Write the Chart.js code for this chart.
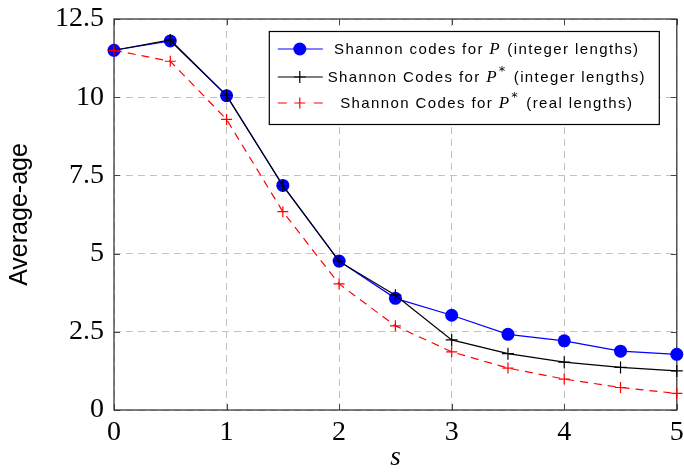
<!DOCTYPE html>
<html><head><meta charset="utf-8">
<script src="https://cdn.jsdelivr.net/npm/chart.js@4/dist/chart.umd.min.js"></script>
<style>html,body{margin:0;padding:0;background:#fff}#wrap{width:684px;height:474px}</style>
</head><body><div id="wrap"><canvas id="c" width="684" height="474"></canvas></div>
<script>
// ---- data ----
const sValues = [0, 0.5, 1, 1.5, 2, 2.5, 3, 3.5, 4, 4.5, 5];
const shannonP = [11.5, 11.8, 10.05, 7.18, 4.76, 3.57, 3.03, 2.42, 2.21, 1.88, 1.78];
const shannonPStarInt = [11.5, 11.83, 10.06, 7.17, 4.75, 3.67, 2.24, 1.80, 1.53, 1.36, 1.25];
const shannonPStarReal = [11.5, 11.15, 9.29, 6.34, 4.03, 2.69, 1.86, 1.34, 0.99, 0.72, 0.53];
const xTicks = [0, 1, 2, 3, 4, 5];
const yTicks = [0, 2.5, 5, 7.5, 10, 12.5];
const legendParts = [
  [{t: 'Shannon codes for '}, {m: 'P'}, {t: ' (integer lengths)'}],
  [{t: 'Shannon Codes for '}, {m: 'P'}, {s: '*'}, {t: ' (integer lengths)'}],
  [{t: 'Shannon Codes for '}, {m: 'P'}, {s: '*'}, {t: ' (real lengths)'}]
];
const xTitle = 's';
const yTitle = 'Average-age';

const toXY = arr => arr.map((v, i) => ({x: sValues[i], y: v}));

const framePlugin = {
  id: 'frame',
  beforeDatasetsDraw(chart) {
    const {ctx, chartArea: a, scales} = chart;
    ctx.save();
    ctx.strokeStyle = '#444';
    ctx.lineWidth = 1;
    ctx.beginPath();
    scales.x.ticks.forEach(t => {
      const px = Math.round(scales.x.getPixelForValue(t.value)) + 0.5;
      ctx.moveTo(px, a.bottom); ctx.lineTo(px, a.bottom - 6);
      ctx.moveTo(px, a.top); ctx.lineTo(px, a.top + 6);
    });
    scales.y.ticks.forEach(t => {
      const py = Math.round(scales.y.getPixelForValue(t.value)) + 0.5;
      ctx.moveTo(a.left, py); ctx.lineTo(a.left + 6, py);
      ctx.moveTo(a.right, py); ctx.lineTo(a.right - 6, py);
    });
    ctx.stroke();
    ctx.strokeStyle = '#3a3a3a';
    ctx.lineWidth = 1.3;
    ctx.strokeRect(a.left, a.top, a.right - a.left, a.bottom - a.top);
    ctx.restore();
  }
};

const legendPlugin = {
  id: 'customLegend',
  afterDatasetsDraw(chart) {
    const {ctx, chartArea: a} = chart;
    const bw = 390, bh = 93;
    const bx = a.right - 18 - bw, by = a.top + 12;
    ctx.save();
    ctx.fillStyle = '#fff';
    ctx.fillRect(bx, by, bw, bh);
    ctx.strokeStyle = '#000';
    ctx.lineWidth = 1.2;
    ctx.strokeRect(bx + 0.5, by + 0.5, bw, bh);
    const rows = [by + 18, by + 46, by + 72];
    const ds = chart.data.datasets;
    const lx0 = bx + 9, lx1 = bx + 54, lc = bx + 31;
    rows.forEach((ry, i) => {
      const d = ds[i];
      ctx.strokeStyle = d.borderColor;
      ctx.lineWidth = d.borderWidth;
      ctx.setLineDash([]);
      ctx.beginPath();
      if (d.borderDash && d.borderDash.length) {
        ctx.moveTo(lx0, ry); ctx.lineTo(lx0 + 9, ry);
        ctx.moveTo(lx1 - 9, ry); ctx.lineTo(lx1, ry);
      } else {
        ctx.moveTo(lx0, ry); ctx.lineTo(lx1, ry);
      }
      ctx.stroke();
      if (d.pointStyle === 'circle') {
        ctx.fillStyle = d.pointBackgroundColor;
        ctx.beginPath(); ctx.arc(lc, ry, d.pointRadius, 0, Math.PI * 2); ctx.fill();
      } else {
        const r = d.pointRadius;
        ctx.strokeStyle = d.pointBorderColor;
        ctx.beginPath();
        ctx.moveTo(lc - r, ry); ctx.lineTo(lc + r, ry);
        ctx.moveTo(lc, ry - r); ctx.lineTo(lc, ry + r);
        ctx.stroke();
      }
      // text
      const parts = legendParts[i];
      const fonts = p => p.t !== undefined ? ['15px "Liberation Sans"', '1.4px', 0, 0]
        : p.m !== undefined ? ['italic 17px "Liberation Serif"', '0px', 0, 2]
        : ['13px "DejaVu Sans"', '0px', -6, 3];
      let total = 0;
      const widths = parts.map(p => {
        const [f, ls, dy, extra] = fonts(p);
        ctx.font = f; ctx.letterSpacing = ls;
        const w = ctx.measureText(p.t || p.m || p.s).width + extra;
        total += w; return w;
      });
      let x = bx + 218 - total / 2;
      ctx.fillStyle = '#000';
      ctx.textBaseline = 'middle';
      ctx.textAlign = 'left';
      parts.forEach((p, j) => {
        const [f, ls, dy] = fonts(p);
        ctx.font = f; ctx.letterSpacing = ls;
        ctx.fillText(p.t || p.m || p.s, x, ry + 1 + dy);
        x += widths[j];
      });
    });
    ctx.restore();
  }
};

const gridColor = '#c2c2c2';

new Chart(document.getElementById('c'), {
  type: 'scatter',
  data: {
    datasets: [
      {label: 'P int', data: toXY(shannonP), showLine: true, borderColor: '#0000ff', backgroundColor: '#0000ff',
       borderWidth: 1.2, pointStyle: 'circle', pointRadius: 6.5, pointBackgroundColor: '#0000ff', pointBorderColor: '#0000ff',
       pointBorderWidth: 0, order: 3, clip: false},
      {label: 'P* int', data: toXY(shannonPStarInt), showLine: true, borderColor: '#000', backgroundColor: '#000',
       borderWidth: 1.2, pointStyle: 'cross', pointRadius: 6, pointBorderColor: '#000', pointBackgroundColor: '#000',
       pointBorderWidth: 1.2, order: 2, clip: false},
      {label: 'P* real', data: toXY(shannonPStarReal), showLine: true, borderColor: '#ff0000', backgroundColor: '#ff0000',
       borderWidth: 1.2, borderDash: [8, 6], pointStyle: 'cross', pointRadius: 5.5, pointBorderColor: '#ff0000',
       pointBackgroundColor: '#ff0000', pointBorderWidth: 1.2, order: 1, clip: false}
    ]
  },
  options: {
    responsive: false,
    animation: false,
    devicePixelRatio: 1,
    layout: {padding: {left: 0, right: 7, top: 19, bottom: 0}},
    plugins: {legend: {display: false}, tooltip: {enabled: false}},
    elements: {line: {tension: 0}},
    scales: {
      x: {
        type: 'linear', min: 0, max: 5,
        afterBuildTicks: s => { s.ticks = xTicks.map(v => ({value: v})); },
        afterFit: s => { s.height = 64; s.paddingLeft = 0; s.paddingRight = 0; },
        grid: {color: gridColor, lineWidth: 1, drawTicks: false},
        border: {display: false, dash: [7, 5]},
        ticks: {font: {family: 'Liberation Serif', size: 28}, color: '#000', padding: 6, maxRotation: 0},
        title: {display: true, text: xTitle, font: {family: 'Liberation Serif', size: 27, style: 'italic'},
                color: '#000', padding: 0, lineHeight: 1}
      },
      y: {
        type: 'linear', min: 0, max: 12.5,
        afterBuildTicks: s => { s.ticks = yTicks.map(v => ({value: v})); },
        afterFit: s => { s.width = 114; s.paddingTop = 0; s.paddingBottom = 0; },
        grid: {color: gridColor, lineWidth: 1, drawTicks: false},
        border: {display: false, dash: [7, 5]},
        ticks: {font: {family: 'Liberation Serif', size: 28}, color: '#000', padding: 10},
        title: {display: true, text: yTitle, font: {family: 'Liberation Sans', size: 25},
                color: '#000', padding: {top: 5, bottom: 0}}
      }
    }
  },
  plugins: [framePlugin, legendPlugin]
});
</script>
</body></html>
